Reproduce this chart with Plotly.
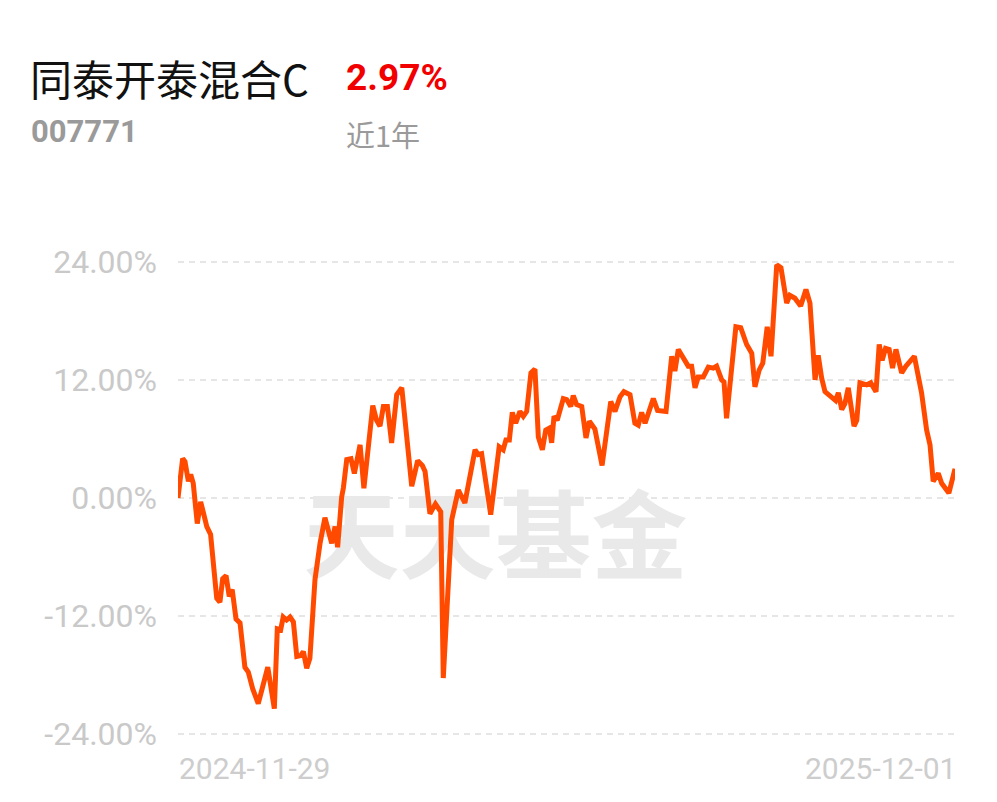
import pandas as pd
import plotly.graph_objects as go

# ---------------- data ----------------
fund_name = "同泰开泰混合C"
fund_code = "007771"
period_label = "近1年"
period_return = "2.97%"
start_date = "2024-11-29"
end_date = "2025-12-01"

day_offsets = [
    0, 2.2, 3.3, 4.9, 6.0, 7.2, 9.1, 10.7, 11.9, 13.6,
    15.4, 18.3, 19.8, 21.1, 22.7, 24.2, 25.6, 27.4, 29.3, 31.6,
    33.2, 35.3, 37.9, 42.4, 45.5, 46.9, 48.5, 49.7, 51.3, 52.9,
    54.5, 56.1, 58.0, 59.2, 60.8, 62.3, 64.7, 67.1, 69.4, 71.0,
    72.6, 74.2, 75.4, 77.3, 78.1, 79.7, 81.7, 83.3, 84.9, 86.0,
    87.8, 92.0, 93.8, 95.4, 97.0, 98.9, 100.9, 103.3, 105.7, 110.4,
    113.2, 115.4, 116.7, 119.0, 121.6, 124.1, 125.3, 129.3, 132.4, 135.5,
    140.3, 141.8, 143.4, 145.5, 147.7, 151.7, 153.6, 154.9, 156.5, 157.9,
    159.5, 161.5, 163.1, 164.7, 166.7, 168.6, 170.2, 172.1, 173.7, 175.4,
    176.5, 177.6, 179.1, 182.0, 183.6, 185.5, 186.7, 188.3, 190.7, 192.7,
    194.3, 196.9, 200.3, 204.4, 206.4, 208.8, 210.6, 213.5, 215.8, 217.4,
    219.0, 220.6, 222.9, 224.5, 226.5, 230.5, 233.2, 234.7, 236.3, 238.7,
    241.0, 242.6, 244.2, 245.7, 248.1, 250.5, 252.8, 254.4, 256.8, 257.9,
    259.1, 263.5, 265.8, 268.6, 271.0, 272.5, 274.5, 276.2, 278.3, 280.1,
    282.8, 284.8, 287.5, 289.0, 291.4, 294.1, 296.6, 298.5, 300.9, 302.4,
    304.0, 305.6, 308.7, 310.6, 311.9, 313.5, 315.0, 316.6, 319.3, 320.6,
    322.1, 325.3, 327.2, 329.7, 331.2, 332.6, 334.2, 335.9, 337.5, 339.1,
    341.8, 343.8, 347.8, 351.2, 353.6, 355.2, 356.7, 359.1, 360.7, 362.3,
    364.1, 367,
]

returns_pct = [
    0.0, 4.0, 3.7, 1.7, 2.4, 1.5, -2.6, -0.4, -1.4, -2.9,
    -3.7, -10.2, -10.6, -8.2, -7.9, -10.0, -9.3, -12.3, -12.7, -17.2,
    -17.7, -19.4, -20.9, -17.2, -21.4, -13.3, -13.4, -12.1, -12.4, -12.1,
    -12.6, -16.1, -16.0, -15.6, -17.3, -16.3, -8.3, -4.6, -2.0, -3.3,
    -4.6, -2.9, -5.0, 0.1, 1.0, 3.9, 4.0, 2.5, 4.7, 5.4,
    1.0, 9.4, 7.9, 7.3, 9.3, 9.3, 5.6, 10.5, 11.2, 1.2,
    3.8, 3.3, 2.7, -1.6, -0.6, -1.4, -18.3, -2.2, 0.8, -0.5,
    4.9, 4.4, 4.5, 1.2, -1.7, 5.2, 4.9, 5.9, 5.9, 8.7,
    7.6, 8.8, 8.3, 8.8, 12.7, 13.1, 6.2, 4.9, 6.9, 7.1,
    5.6, 8.3, 7.9, 10.1, 10.0, 9.3, 10.4, 9.5, 9.3, 6.1,
    7.8, 7.0, 3.3, 9.8, 8.8, 10.3, 10.8, 10.5, 7.6, 7.4,
    8.7, 7.6, 9.3, 10.1, 8.9, 8.8, 14.4, 12.9, 15.1, 14.2,
    13.4, 13.4, 11.2, 12.3, 12.3, 13.3, 13.2, 13.4, 12.0, 11.8,
    8.1, 17.4, 17.3, 15.6, 14.7, 11.3, 13.0, 13.7, 17.4, 14.4,
    23.7, 23.4, 19.8, 20.6, 20.3, 19.5, 21.2, 19.8, 12.0, 14.5,
    12.2, 10.8, 10.3, 9.9, 10.7, 9.0, 9.6, 11.2, 7.3, 7.9,
    11.7, 11.5, 11.7, 10.8, 15.6, 14.0, 15.2, 15.1, 13.2, 15.1,
    12.7, 13.4, 14.4, 10.7, 6.9, 5.4, 1.7, 2.5, 1.5, 1.0,
    0.5, 2.97,
]

y_tick_values = [-24, -12, 0, 12, 24]
y_tick_labels = ["-24.00%", "-12.00%", "0.00%", "12.00%", "24.00%"]
x_tick_labels = [start_date, end_date]
watermark_text = "天天基金"

assert len(day_offsets) == len(returns_pct)

start = pd.Timestamp(start_date)
dates = start + pd.to_timedelta(day_offsets, unit="D")

# ---------------- layout helpers (pixel -> paper) ----------------
W, H = 997, 802
ML, MR, MT, MB = 178, 42, 252, 58
PW, PH = W - ML - MR, H - MT - MB


def px(x):
    return (x - ML) / PW


def py(y):
    return (H - MB - y) / PH


fig = go.Figure()

# watermark (drawn first so the line sits on top)
fig.add_trace(go.Scatter(
    x=[start + pd.Timedelta(days=150)], y=[-5.0],
    mode="text", text=[watermark_text],
    textfont=dict(family="Noto Sans CJK SC", size=96, color="#e9e9e9", weight=700),
    hoverinfo="skip", showlegend=False,
))

fig.add_trace(go.Scatter(
    x=dates, y=returns_pct, mode="lines",
    line=dict(color="#ff4a00", width=5),
    hoverinfo="skip", showlegend=False,
))

fig.update_layout(
    width=W, height=H,
    margin=dict(l=ML, r=MR, t=MT, b=MB),
    paper_bgcolor="white", plot_bgcolor="white",
    showlegend=False,
    xaxis=dict(
        range=[start, pd.Timestamp(end_date)],
        showgrid=False, zeroline=False, showline=False,
        showticklabels=False, ticks="",
    ),
    yaxis=dict(
        range=[-25, 25],
        tickvals=y_tick_values, ticktext=y_tick_labels,
        tickfont=dict(family="Roboto", size=32, color="#c9c9c9"),
        showgrid=True, gridcolor="#e6e6e6", gridwidth=2, griddash="6px,5px",
        zeroline=False, showline=False, ticks="",
        ticklabelstandoff=20,
    ),
)

annotations = [
    dict(text=fund_name, x=px(28), y=py(77), xanchor="left", yanchor="middle",
         font=dict(family="Noto Sans CJK SC", size=42, color="#111111")),
    dict(text=period_return, x=px(344), y=py(77), xanchor="left", yanchor="middle",
         font=dict(family="Roboto", size=37, color="#f20000", weight=700)),
    dict(text=fund_code, x=px(29), y=py(131), xanchor="left", yanchor="middle",
         font=dict(family="Roboto", size=31, color="#9a9a9a", weight=700)),
    dict(text=period_label, x=px(344), y=py(134), xanchor="left", yanchor="middle",
         font=dict(family="Noto Sans CJK SC", size=29, color="#9a9a9a")),
    dict(text=x_tick_labels[0], x=px(177), y=py(768), xanchor="left", yanchor="middle",
         font=dict(family="Roboto", size=30, color="#cdcdcd")),
    dict(text=x_tick_labels[1], x=px(958), y=py(768), xanchor="right", yanchor="middle",
         font=dict(family="Roboto", size=30, color="#cdcdcd")),
]
for a in annotations:
    a.update(xref="paper", yref="paper", showarrow=False)
fig.update_layout(annotations=annotations)

fig.write_html("out.html", config={"displayModeBar": False},
               post_script="document.body.style.margin='0';")
